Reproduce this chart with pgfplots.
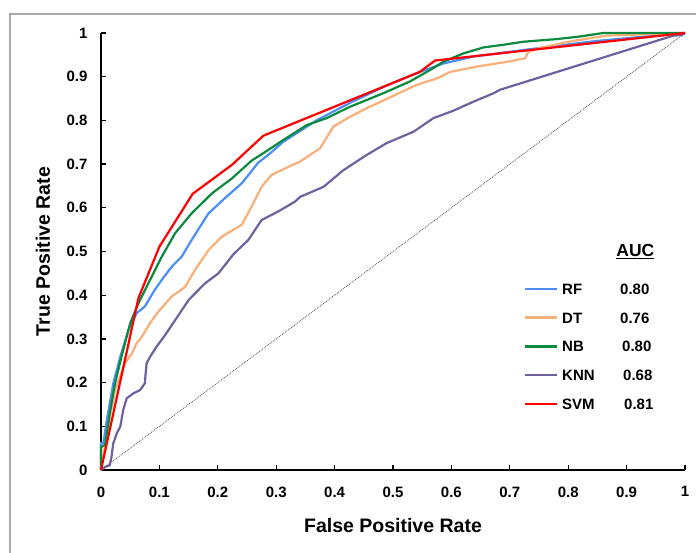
\documentclass[border=0pt]{standalone}
\usepackage{fontspec}
\setmainfont{Liberation Sans}
\usepackage{pgfplots}
\pgfplotsset{compat=1.18}
\definecolor{cRF}{HTML}{4A8FF5}
\definecolor{cDT}{HTML}{F9AF78}
\definecolor{cNB}{HTML}{0A8A3C}
\definecolor{cKNN}{HTML}{7060A0}
\definecolor{cSVM}{HTML}{FF0000}
\definecolor{frame}{HTML}{A8A8A8}
\begin{document}
\begin{tikzpicture}
\useasboundingbox (-101pt,-82pt) rectangle (595pt,470pt);
\begin{axis}[
  width=584pt, height=437pt, scale only axis,
  xmin=0, xmax=1, ymin=0, ymax=1,
  axis lines*=left,
  axis line style={line width=1.4pt},
  tick style={black, line width=1.2pt},
  tick align=inside, major tick length=5pt,
  xtick={0,0.1,0.2,0.3,0.4,0.5,0.6,0.7,0.8,0.9,1},
  ytick={0,0.1,0.2,0.3,0.4,0.5,0.6,0.7,0.8,0.9,1},
  /pgf/number format/assume math mode=true,
  /pgf/number format/fixed,
  ticklabel style={font=\bfseries\fontsize{15}{18}\selectfont},
  yticklabel style={xshift=-10pt},
  xticklabel style={yshift=-13pt},
  xlabel={False Positive Rate},
  ylabel={True Positive Rate},
  label style={font=\bfseries\fontsize{19.5}{23}\selectfont},
  xlabel style={at={(axis description cs:0.5,-0.126)}, anchor=center},
  ylabel style={at={(axis description cs:-0.0993,0.5)}, anchor=center},
  clip=false,
  legend image code/.code={\draw[#1] (0pt,0pt) -- (32pt,0pt);},
  legend cell align=left,
  legend style={at={(axis cs:0.7243,0.4275)}, anchor=north west, draw=none, fill=none,
    inner sep=0pt, outer sep=0pt, row sep=17.9pt, column sep=4pt,
    nodes={inner sep=0pt, outer sep=0pt, text height=11pt, text depth=0pt},
    font=\bfseries\fontsize{15}{18}\selectfont},
]
\addplot[gray!80!black, line width=0.9pt, densely dotted, forget plot] coordinates {(0,0)(1,1)};
\addplot[cRF, line width=2.2pt] coordinates {(0,0)(0,0.062)(0.004,0.061)(0.010,0.114)(0.021,0.198)(0.033,0.259)(0.047,0.320)(0.061,0.359)(0.075,0.374)(0.092,0.412)(0.104,0.435)(0.121,0.465)(0.138,0.488)(0.155,0.526)(0.184,0.587)(0.212,0.622)(0.241,0.656)(0.269,0.703)(0.290,0.725)(0.312,0.751)(0.369,0.800)(0.426,0.840)(0.483,0.876)(0.540,0.908)(0.586,0.930)(0.637,0.946)(0.695,0.956)(0.752,0.966)(0.85,0.982)(1,1)};
\addlegendentry{\makebox[58pt][l]{RF}0.80}
\addplot[cDT, line width=2.2pt] coordinates {(0,0)(0.005,0.04)(0.015,0.12)(0.024,0.183)(0.041,0.244)(0.053,0.267)(0.061,0.290)(0.070,0.305)(0.084,0.336)(0.098,0.362)(0.121,0.397)(0.144,0.419)(0.161,0.458)(0.184,0.503)(0.207,0.534)(0.241,0.561)(0.258,0.603)(0.275,0.648)(0.292,0.675)(0.315,0.690)(0.341,0.706)(0.375,0.736)(0.398,0.786)(0.426,0.808)(0.455,0.828)(0.489,0.849)(0.540,0.881)(0.575,0.896)(0.598,0.911)(0.643,0.923)(0.695,0.934)(0.726,0.942)(0.732,0.957)(0.752,0.966)(0.809,0.982)(0.866,0.994)(1,1)};
\addlegendentry{\makebox[58pt][l]{DT}0.76}
\addplot[cNB, line width=2.2pt] coordinates {(0,0)(0,0.053)(0.007,0.057)(0.015,0.13)(0.024,0.198)(0.035,0.259)(0.050,0.336)(0.064,0.381)(0.081,0.427)(0.104,0.488)(0.127,0.542)(0.155,0.587)(0.190,0.633)(0.224,0.667)(0.258,0.708)(0.286,0.732)(0.312,0.755)(0.352,0.789)(0.386,0.805)(0.426,0.831)(0.483,0.862)(0.529,0.889)(0.563,0.915)(0.586,0.934)(0.620,0.953)(0.655,0.967)(0.689,0.973)(0.723,0.98)(0.78,0.986)(0.82,0.992)(0.86,1.0)(1,1)};
\addlegendentry{\makebox[60pt][l]{NB}0.80}
\addplot[cKNN, line width=2.2pt] coordinates {(0,0)(0.007,0.007)(0.015,0.011)(0.018,0.030)(0.021,0.061)(0.027,0.084)(0.033,0.099)(0.038,0.137)(0.044,0.164)(0.055,0.175)(0.067,0.183)(0.075,0.198)(0.078,0.244)(0.084,0.259)(0.095,0.282)(0.110,0.309)(0.127,0.343)(0.150,0.389)(0.178,0.427)(0.201,0.450)(0.227,0.494)(0.252,0.526)(0.275,0.572)(0.304,0.592)(0.332,0.614)(0.341,0.625)(0.381,0.648)(0.415,0.686)(0.455,0.721)(0.489,0.748)(0.535,0.774)(0.569,0.805)(0.603,0.822)(0.638,0.843)(0.672,0.862)(0.683,0.870)(0.980,0.994)(0.994,0.995)(1,1)};
\addlegendentry{\makebox[61pt][l]{KNN}0.68}
\addplot[cSVM, line width=2.2pt] coordinates {(0,0)(0.064,0.393)(0.100,0.511)(0.157,0.632)(0.224,0.698)(0.278,0.765)(0.546,0.911)(0.572,0.937)(1,1)};
\addlegendentry{\makebox[62pt][l]{SVM}0.81}
\node[anchor=base, inner sep=0pt, font=\bfseries\fontsize{17.5}{21}\selectfont] at (axis cs:0.915,0.488) {\underline{AUC}};
\end{axis}
\draw[frame, line width=1.6pt] (-91pt,-120pt) -- (-91pt,456pt) -- (640pt,456pt);
\end{tikzpicture}
\end{document}
